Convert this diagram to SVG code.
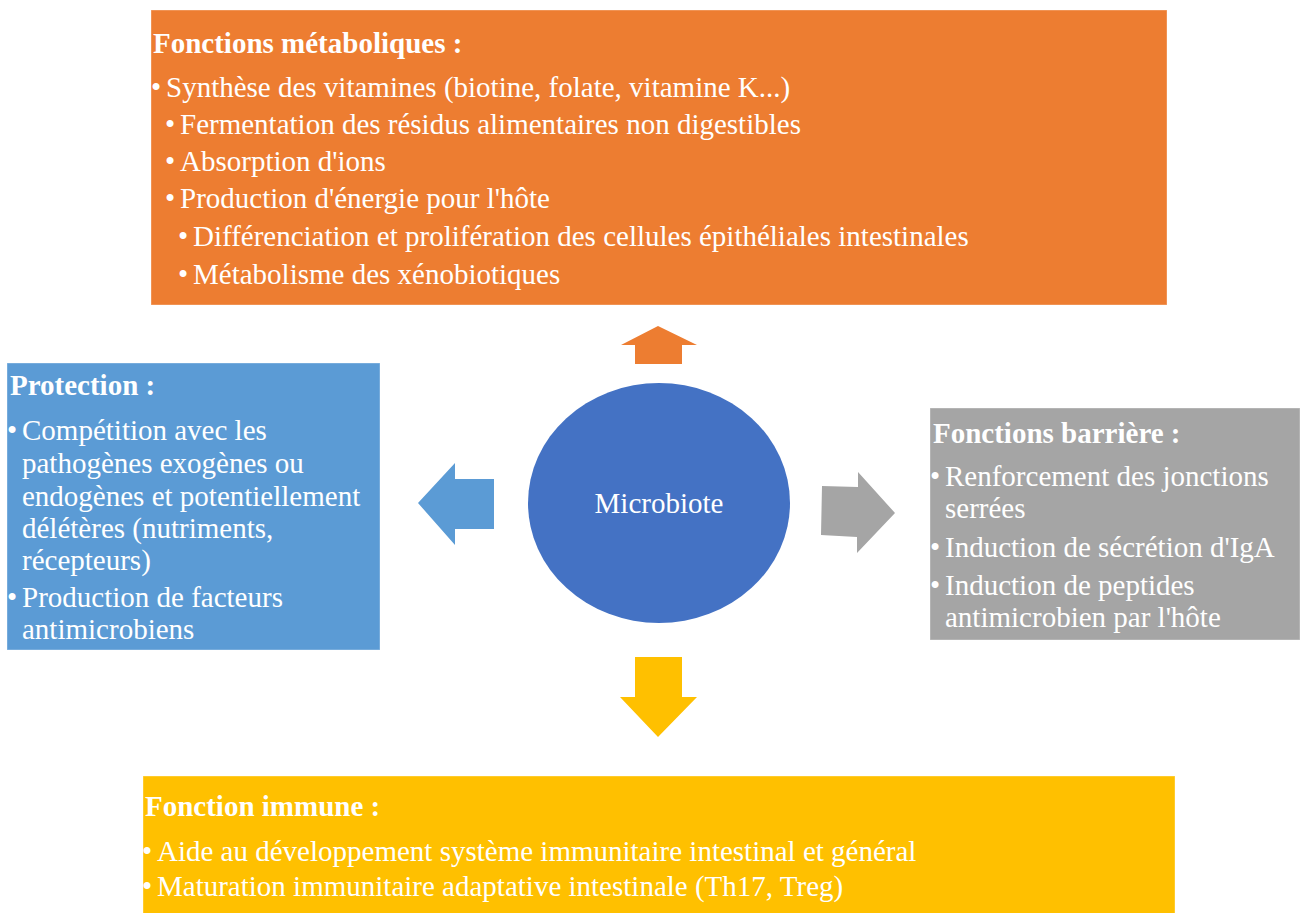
<svg xmlns="http://www.w3.org/2000/svg" width="1300" height="913" viewBox="0 0 1300 913">
<style>
text{font-family:"Liberation Serif","Times New Roman",serif;font-size:29px;fill:#ffffff}
.h{font-weight:bold}
.b{text-anchor:middle}
.box{stroke:#ffffff;stroke-opacity:0.35;stroke-width:1}
</style>
<rect width="1300" height="913" fill="#ffffff"/>
<g id="connectors">
<polygon points="658,326 697,345 682,345 682,364 635,364 635,345 621,345" fill="#ED7D31"/>
<polygon points="418,503 455,463 455,479 494,479 494,529 455,529 455,545" fill="#5B9BD5"/>
<polygon points="822,486 858,487 858,472 895,513 857,553 857,537 821,535" fill="#A5A5A5"/>
<polygon points="635,657 682,657 682,697 697,697 658,737 620,697 635,697" fill="#FFC000"/>
</g>
<g id="metabolic">
<rect class="box" x="151" y="10" width="1016" height="295" fill="#ED7D31"/>
<text class="h" x="153" y="53">Fonctions métaboliques :</text>
<text class="b" x="156" y="97">•</text><text x="166" y="97">Synthèse des vitamines (biotine, folate, vitamine K...)</text>
<text class="b" x="170" y="134">•</text><text x="180" y="134">Fermentation des résidus alimentaires non digestibles</text>
<text class="b" x="170" y="171">•</text><text x="180" y="171">Absorption d'ions</text>
<text class="b" x="170" y="208">•</text><text x="180" y="208">Production d'énergie pour l'hôte</text>
<text class="b" x="183" y="246">•</text><text x="193" y="246">Différenciation et prolifération des cellules épithéliales intestinales</text>
<text class="b" x="183" y="284">•</text><text x="193" y="284">Métabolisme des xénobiotiques</text>
</g>
<g id="protection">
<rect class="box" x="7" y="363" width="373" height="287" fill="#5B9BD5"/>
<text class="h" x="10" y="395">Protection :</text>
<text class="b" x="12" y="440">•</text><text x="22" y="440">Compétition avec les</text>
<text x="22" y="473">pathogènes exogènes ou</text>
<text x="22" y="506">endogènes et potentiellement</text>
<text x="22" y="538">délétères (nutriments,</text>
<text x="22" y="570">récepteurs)</text>
<text class="b" x="12" y="607">•</text><text x="22" y="607">Production de facteurs</text>
<text x="22" y="639">antimicrobiens</text>
</g>
<g id="microbiote">
<ellipse cx="659" cy="503" rx="131" ry="120" fill="#4472C4"/>
<text class="b" x="659" y="513">Microbiote</text>
</g>
<g id="barriere">
<rect class="box" x="930" y="408" width="370" height="232" fill="#A5A5A5"/>
<text class="h" x="933" y="443">Fonctions barrière :</text>
<text class="b" x="935" y="486">•</text><text x="945" y="486">Renforcement des jonctions</text>
<text x="945" y="518">serrées</text>
<text class="b" x="935" y="557">•</text><text x="945" y="557">Induction de sécrétion d'IgA</text>
<text class="b" x="935" y="595">•</text><text x="945" y="595">Induction de peptides</text>
<text x="945" y="627">antimicrobien par l'hôte</text>
</g>
<g id="immune">
<rect class="box" x="143" y="776" width="1032" height="140" fill="#FFC000"/>
<text class="h" x="145" y="816">Fonction immune :</text>
<text class="b" x="147" y="861">•</text><text x="157" y="861">Aide au développement système immunitaire intestinal et général</text>
<text class="b" x="147" y="896">•</text><text x="157" y="896">Maturation immunitaire adaptative intestinale (Th17, Treg)</text>
</g>
</svg>
